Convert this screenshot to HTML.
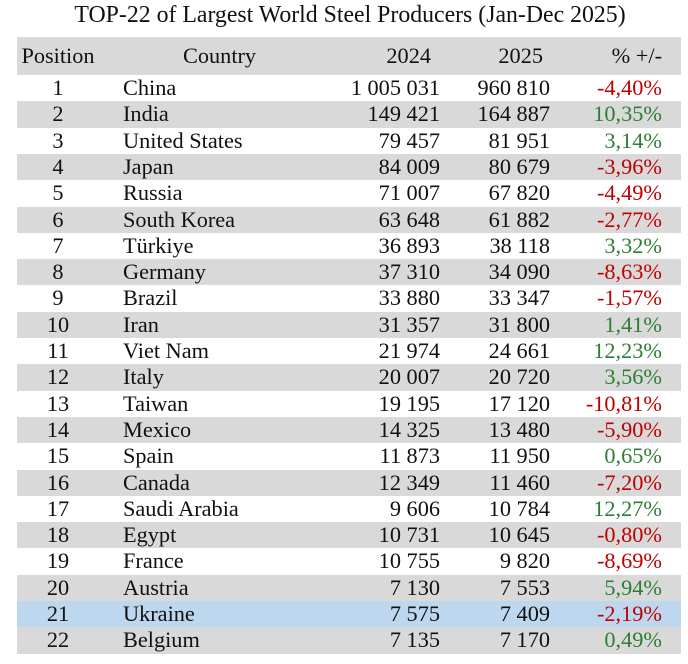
<!DOCTYPE html><html><head><meta charset="utf-8"><style>
body{margin:0;width:688px;height:664px;background:#fff;font-family:"Liberation Serif",serif;color:#111;position:relative;overflow:hidden}
.t{position:absolute;top:2px;left:6px;width:688px;text-align:center;font-size:23.8px}
.r{position:absolute;left:17px;width:664px;height:26.3px;font-size:22.3px;line-height:26.3px}
.r span{position:absolute;top:0;white-space:nowrap}
.p{left:0;width:82px;text-align:center}
.c{left:106px}
.a{right:241px}.b{right:131px}.d{right:19px}
.g{background:#d9d9d9}.u{background:#bdd7ee}
.n{color:#c00000}.y{color:#2e7d32}
</style></head><body>
<div class="t">TOP-22 of Largest World Steel Producers (Jan-Dec 2025)</div>
<div class="r g" style="top:37px;height:38px;line-height:38px"><span class="p" style="left:-3px;width:88px">Position</span><span style="left:166px">Country</span><span class="a" style="right:250px">2024</span><span class="b" style="right:138px">2025</span><span class="d">% +/-</span></div>
<div id="rows"></div>
<script>
var d=[["China","1 005 031","960 810","-4,40%"],["India","149 421","164 887","10,35%"],["United States","79 457","81 951","3,14%"],["Japan","84 009","80 679","-3,96%"],["Russia","71 007","67 820","-4,49%"],["South Korea","63 648","61 882","-2,77%"],["Türkiye","36 893","38 118","3,32%"],["Germany","37 310","34 090","-8,63%"],["Brazil","33 880","33 347","-1,57%"],["Iran","31 357","31 800","1,41%"],["Viet Nam","21 974","24 661","12,23%"],["Italy","20 007","20 720","3,56%"],["Taiwan","19 195","17 120","-10,81%"],["Mexico","14 325","13 480","-5,90%"],["Spain","11 873","11 950","0,65%"],["Canada","12 349","11 460","-7,20%"],["Saudi Arabia","9 606","10 784","12,27%"],["Egypt","10 731","10 645","-0,80%"],["France","10 755","9 820","-8,69%"],["Austria","7 130","7 553","5,94%"],["Ukraine","7 575","7 409","-2,19%"],["Belgium","7 135","7 170","0,49%"]];
var h="";d.forEach(function(r,i){var cl=i==20?"u":(i%2?"g":"");h+='<div class="r '+cl+'" style="top:'+(75+i*26.3)+'px"><span class="p">'+(i+1)+'</span><span class="c">'+r[0]+'</span><span class="a">'+r[1]+'</span><span class="b">'+r[2]+'</span><span class="d '+(r[3][0]=="-"?"n":"y")+'">'+r[3]+'</span></div>';});
document.getElementById("rows").innerHTML=h;
</script>
</body></html>
